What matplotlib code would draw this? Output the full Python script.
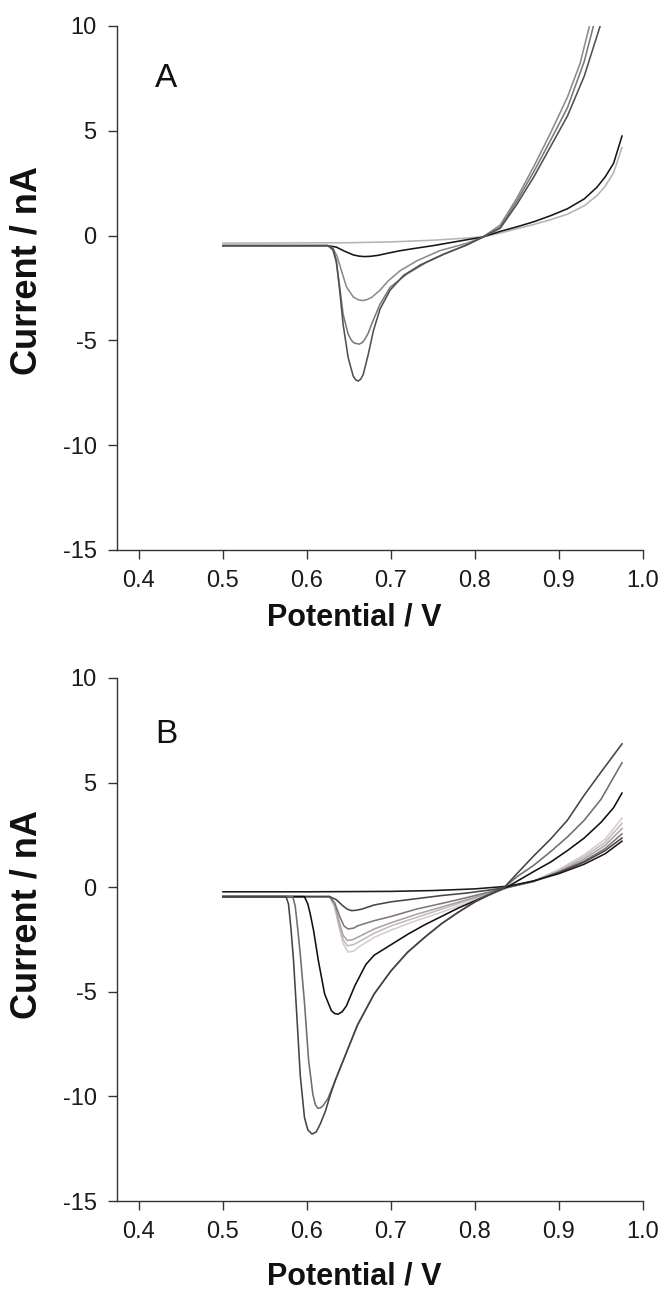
import matplotlib
matplotlib.use("Agg")
import matplotlib.pyplot as plt

plt.rcParams['font.family'] = ['Liberation Sans', 'DejaVu Sans']
plt.rcParams['axes.unicode_minus'] = False

# ---- panel A: potential (V) / current (nA) ----
a0_v = [0.50, 0.625, 0.635, 0.645, 0.655, 0.662, 0.668, 0.675, 0.685, 0.695, 0.711, 0.73, 0.75, 0.77, 0.79, 0.808,
        0.83, 0.85, 0.87, 0.89, 0.91, 0.93, 0.945, 0.955, 0.965, 0.975]
a0_i = [-0.48, -0.48, -0.55, -0.75, -0.92, -0.98, -1.0, -0.99, -0.94, -0.85, -0.72, -0.6, -0.48, -0.34, -0.2, -0.08,
        0.2, 0.42, 0.66, 0.95, 1.28, 1.75, 2.3, 2.8, 3.45, 4.75]

a1_v = [0.50, 0.65, 0.70, 0.75, 0.79, 0.81, 0.83, 0.85, 0.87, 0.89, 0.91, 0.93, 0.945, 0.955, 0.965, 0.975]
a1_i = [-0.36, -0.34, -0.3, -0.22, -0.12, -0.05, 0.12, 0.33, 0.53, 0.76, 1.02, 1.42, 1.9, 2.35, 3.0, 4.2]

a2_v = [0.50, 0.625, 0.631, 0.636, 0.641, 0.647, 0.655, 0.661, 0.666, 0.671, 0.677, 0.687, 0.697, 0.711, 0.731,
        0.758, 0.79, 0.808, 0.83, 0.85, 0.87, 0.89, 0.91, 0.925, 0.94]
a2_i = [-0.48, -0.48, -0.6, -1.0, -1.67, -2.45, -2.92, -3.06, -3.1, -3.06, -2.95, -2.6, -2.15, -1.67, -1.2,
        -0.72, -0.37, -0.1, 0.5, 1.8, 3.3, 4.9, 6.6, 8.2, 10.6]

a3_v = [0.50, 0.625, 0.631, 0.635, 0.639, 0.643, 0.649, 0.653, 0.656, 0.662, 0.666, 0.669, 0.673, 0.677, 0.687,
        0.699, 0.719, 0.742, 0.765, 0.79, 0.808, 0.83, 0.85, 0.87, 0.89, 0.91, 0.93, 0.941, 0.946]
a3_i = [-0.48, -0.48, -0.7, -1.3, -2.47, -3.75, -4.7, -5.0, -5.12, -5.18, -5.1, -4.94, -4.65, -4.22, -3.27,
        -2.47, -1.83, -1.28, -0.85, -0.45, -0.1, 0.4, 1.65, 3.05, 4.55, 6.1, 8.3, 10.0, 10.8]

a4_v = [0.50, 0.625, 0.631, 0.635, 0.639, 0.643, 0.649, 0.655, 0.658, 0.661, 0.664, 0.667, 0.673, 0.679, 0.687,
        0.699, 0.715, 0.735, 0.762, 0.79, 0.808, 0.83, 0.85, 0.87, 0.89, 0.91, 0.93, 0.949, 0.955]
a4_i = [-0.48, -0.48, -0.65, -1.2, -2.63, -4.23, -5.82, -6.7, -6.88, -6.94, -6.85, -6.62, -5.66, -4.55, -3.5,
        -2.6, -1.9, -1.4, -0.9, -0.45, -0.1, 0.35, 1.5, 2.8, 4.25, 5.7, 7.6, 10.0, 10.9]

# ---- panel B ----
b1_v = [0.50, 0.60, 0.70, 0.75, 0.80, 0.84, 0.87, 0.90, 0.93, 0.955, 0.975]
b1_i = [-0.22, -0.22, -0.2, -0.16, -0.08, 0.05, 0.3, 0.65, 1.1, 1.6, 2.2]

b2_v = [0.50, 0.627, 0.635, 0.643, 0.648, 0.653, 0.659, 0.665, 0.68, 0.70, 0.73, 0.76, 0.79, 0.82, 0.84,
        0.87, 0.90, 0.93, 0.955, 0.975]
b2_i = [-0.45, -0.45, -0.6, -0.9, -1.05, -1.12, -1.1, -1.05, -0.85, -0.7, -0.55, -0.4, -0.28, -0.12, 0.02,
        0.3, 0.7, 1.2, 1.75, 2.35]

b3_v = [0.50, 0.627, 0.633, 0.639, 0.644, 0.649, 0.656, 0.66, 0.68, 0.70, 0.73, 0.76, 0.79, 0.82, 0.84,
        0.87, 0.90, 0.93, 0.955, 0.975]
b3_i = [-0.45, -0.45, -0.75, -1.4, -1.85, -2.0, -1.95, -1.85, -1.6, -1.4, -1.05, -0.78, -0.5, -0.2, 0.0,
        0.28, 0.72, 1.25, 1.85, 2.55]

b4_v = [0.50, 0.627, 0.633, 0.638, 0.643, 0.648, 0.655, 0.66, 0.68, 0.70, 0.73, 0.76, 0.79, 0.82, 0.84,
        0.87, 0.90, 0.93, 0.955, 0.975]
b4_i = [-0.45, -0.45, -0.85, -1.6, -2.3, -2.55, -2.5, -2.4, -2.0, -1.7, -1.3, -0.95, -0.6, -0.25, 0.0,
        0.27, 0.75, 1.35, 2.0, 2.8]

b5_v = [0.50, 0.627, 0.633, 0.638, 0.643, 0.648, 0.655, 0.66, 0.68, 0.70, 0.73, 0.76, 0.79, 0.82, 0.84,
        0.87, 0.90, 0.93, 0.955, 0.975]
b5_i = [-0.45, -0.45, -0.9, -1.75, -2.5, -2.8, -2.75, -2.65, -2.2, -1.85, -1.45, -1.05, -0.65, -0.3, 0.0,
        0.28, 0.8, 1.45, 2.15, 3.05]

b6_v = [0.50, 0.627, 0.633, 0.638, 0.643, 0.649, 0.656, 0.66, 0.68, 0.70, 0.73, 0.76, 0.79, 0.82, 0.84,
        0.87, 0.90, 0.93, 0.955, 0.975]
b6_i = [-0.45, -0.45, -0.95, -1.9, -2.7, -3.1, -3.05, -2.9, -2.4, -2.05, -1.6, -1.2, -0.75, -0.35, 0.0,
        0.3, 0.85, 1.55, 2.3, 3.3]

b7_v = [0.50, 0.597, 0.601, 0.604, 0.608, 0.6135, 0.621, 0.629, 0.633, 0.637, 0.642, 0.647, 0.657, 0.67, 0.68,
        0.70, 0.72, 0.74, 0.76, 0.78, 0.80, 0.82, 0.84, 0.87, 0.89, 0.91, 0.93, 0.95, 0.965, 0.975]
b7_i = [-0.45, -0.45, -0.8, -1.3, -2.1, -3.5, -5.1, -5.9, -6.04, -6.07, -5.95, -5.67, -4.71, -3.7, -3.25,
        -2.75, -2.25, -1.8, -1.4, -1.0, -0.65, -0.3, 0.05, 0.75, 1.2, 1.75, 2.35, 3.1, 3.8, 4.5]

b8_v = [0.50, 0.583, 0.586, 0.589, 0.592, 0.597, 0.602, 0.607, 0.61, 0.613, 0.616, 0.619, 0.625, 0.634,
        0.64, 0.65, 0.66, 0.68, 0.70, 0.72, 0.74, 0.76, 0.78, 0.80, 0.82, 0.835,
        0.85, 0.87, 0.89, 0.91, 0.93, 0.95, 0.975]
b8_i = [-0.45, -0.45, -0.9, -2.0, -3.2, -5.5, -8.3, -9.9, -10.4, -10.57, -10.55, -10.45, -10.1, -9.2,
        -8.6, -7.6, -6.6, -5.1, -4.0, -3.1, -2.4, -1.75, -1.2, -0.7, -0.3, 0.0,
        0.5, 1.05, 1.7, 2.4, 3.2, 4.2, 5.95]

b9_v = [0.50, 0.575, 0.578, 0.581, 0.584, 0.588, 0.592, 0.597, 0.601, 0.606, 0.611, 0.616, 0.622, 0.628,
        0.634, 0.64, 0.65, 0.66, 0.68, 0.70, 0.72, 0.74, 0.76, 0.78, 0.80, 0.82, 0.835,
        0.85, 0.87, 0.89, 0.91, 0.93, 0.95, 0.975]
b9_i = [-0.45, -0.45, -0.8, -2.0, -3.5, -6.2, -9.0, -11.0, -11.6, -11.8, -11.7, -11.3, -10.7, -9.9,
        -9.2, -8.6, -7.6, -6.6, -5.1, -4.0, -3.1, -2.4, -1.75, -1.2, -0.7, -0.3, 0.0,
        0.65, 1.5, 2.3, 3.2, 4.4, 5.5, 6.85]

panel_a = [(a1_v, a1_i, '#b4b4b4'), (a0_v, a0_i, '#151515'), (a2_v, a2_i, '#8c8c8c'),
           (a3_v, a3_i, '#7a7a7a'), (a4_v, a4_i, '#505050')]
panel_b = [(b6_v, b6_i, '#d6cccc'), (b5_v, b5_i, '#c4bbbb'), (b4_v, b4_i, '#aaa3a3'),
           (b3_v, b3_i, '#7d7878'), (b2_v, b2_i, '#4a4646'), (b1_v, b1_i, '#1a1a1a'),
           (b7_v, b7_i, '#101010'), (b8_v, b8_i, '#6e6e6e'), (b9_v, b9_i, '#444444')]

W, H = 664, 1302
fig = plt.figure(figsize=(W / 100, H / 100), dpi=100)

def make_axes(top_px, bottom_px):
    left, right = 116.7, 643
    return fig.add_axes([left / W, 1 - bottom_px / H, (right - left) / W, (bottom_px - top_px) / H])

axA = make_axes(26, 550)
axB = make_axes(678, 1201)

for ax, curves, letter, ly, xl_y, yl_y in [(axA, panel_a, 'A', 7.5, -0.128, 0.534),
                                           (axB, panel_b, 'B', 7.3, -0.145, 0.547)]:
    for v, i, c in curves:
        ax.plot(v, i, color=c, lw=1.15, solid_joinstyle='round')
    ax.set_xlim(0.3735, 1.0)
    ax.set_ylim(-15, 10)
    ax.set_xticks([0.4, 0.5, 0.6, 0.7, 0.8, 0.9, 1.0])
    ax.set_yticks([-15, -10, -5, 0, 5, 10])
    ax.spines['top'].set_visible(False)
    ax.spines['right'].set_visible(False)
    for s in ['left', 'bottom']:
        ax.spines[s].set_color('#333333')
        ax.spines[s].set_linewidth(1.0)
    ax.tick_params(direction='out', length=6.5, width=1.0, color='#333333',
                   labelsize=17, labelcolor='#1a1a1a', pad=8)
    ax.set_xlabel('Potential / V', fontsize=22, fontweight='bold', color='#111111', va='center')
    ax.set_ylabel('Current / nA', fontsize=26, fontweight='bold', color='#111111', va='center')
    ax.xaxis.set_label_coords(0.451, xl_y)
    ax.yaxis.set_label_coords(-0.17, yl_y)
    ax.text(0.419, ly, letter, fontsize=24, color='#111111', va='center', ha='left')

fig.savefig('out.png', dpi=100)
